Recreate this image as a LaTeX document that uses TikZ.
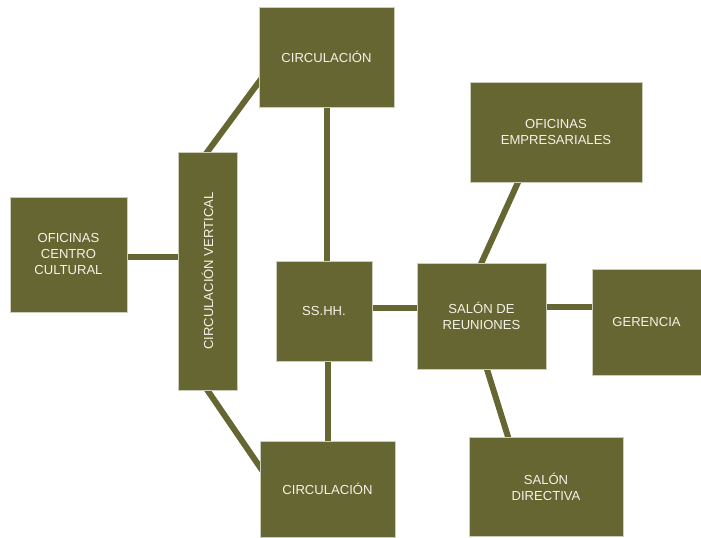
\documentclass[tikz,border=0pt]{standalone}
\usepackage{graphicx}
\usepackage{fontspec}
\setmainfont{Liberation Sans}
\usetikzlibrary{calc}
\pgfdeclarelayer{background}
\pgfsetlayers{background,main}
\definecolor{olivebox}{RGB}{102,102,51}
\definecolor{boxtext}{RGB}{242,242,232}
\definecolor{boxrim}{RGB}{205,205,188}
\tikzset{
  roombox/.style={fill=olivebox, draw=boxrim, line width=0.5pt, text=boxtext,
    align=center, inner sep=0pt, font=\fontsize{9.8}{12}\selectfont},
  link/.style={draw=olivebox, line width=4.5pt, shorten <=-4pt, shorten >=-4pt}
}
\begin{document}
\begin{tikzpicture}[x=0.75pt, y=-0.75pt]
\useasboundingbox (0,0) rectangle (701,538);
\begin{scope}[every node/.append style={roombox}]
\node[minimum width=117*0.75pt, minimum height=115*0.75pt] (occ) at (68.5,254.5) {OFICINAS\\CENTRO\\CULTURAL};
\node[minimum width=59*0.75pt, minimum height=238*0.75pt] (cv) at (207.5,271) {\rotatebox{90}{CIRCULACIÓN VERTICAL}};
\node[minimum width=135*0.75pt, minimum height=100*0.75pt] (ct) at (326.5,57) {CIRCULACIÓN};
\node[minimum width=135*0.75pt, minimum height=96*0.75pt] (cb) at (327.5,489) {CIRCULACIÓN};
\node[minimum width=96*0.75pt, minimum height=100*0.75pt] (ss) at (324,311) {SS.HH.};
\node[minimum width=129*0.75pt, minimum height=106*0.75pt] (sr) at (481.5,316) {SALÓN DE\\REUNIONES};
\node[minimum width=172*0.75pt, minimum height=100*0.75pt] (oe) at (556,132) {OFICINAS\\EMPRESARIALES};
\node[minimum width=109*0.75pt, minimum height=106*0.75pt] (ge) at (646.5,322) {GERENCIA};
\node[minimum width=154*0.75pt, minimum height=99*0.75pt] (sd) at (546,486.5) {SALÓN\\DIRECTIVA};
\end{scope}
\begin{pgfonlayer}{background}
\draw[link] ($(occ.east)+(0,2.5)$) -- ($(cv.west)+(0,-14)$);
\draw[link] (cv.north) -- ($(ct.south west)+(0,-25)$);
\draw[link] (cv.south) -- ($(cb.north west)+(0,26)$);
\draw[link] (ct.south) -- (ct.south |- ss.north);
\draw[link] (cb.north |- ss.south) -- (cb.north);
\draw[link] ($(ss.east)+(0,-3)$) -- ($(sr.west)+(0,-8)$);
\draw[link] (sr.north) -- ($(oe.south)+(-38,0)$);
\draw[link] ($(sr.east)+(0,-9)$) -- ($(ge.west)+(0,-15)$);
\draw[link] ($(sr.south)+(5.5,0)$) -- ($(sd.north)+(-38,0)$);
\end{pgfonlayer}
\end{tikzpicture}
\end{document}
